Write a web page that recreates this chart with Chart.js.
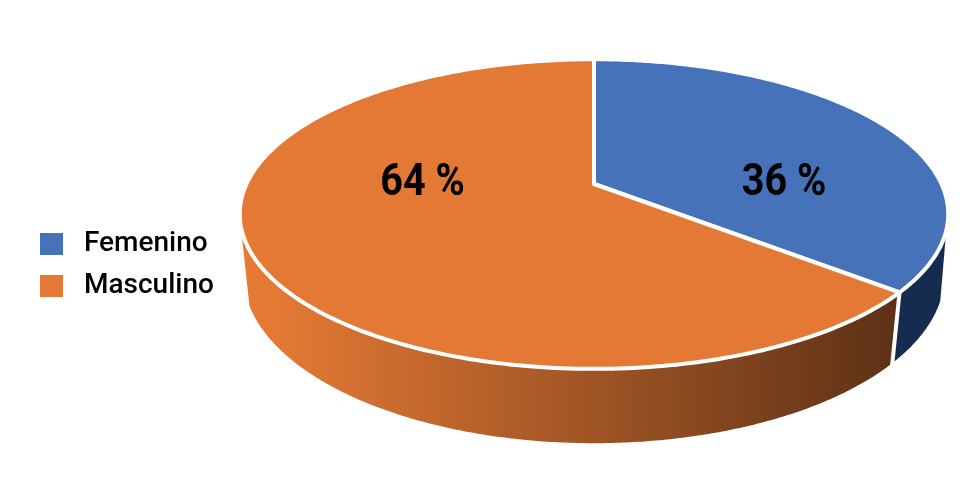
<!DOCTYPE html>
<html>
<head>
<meta charset="utf-8">
<script src="https://cdn.jsdelivr.net/npm/chart.js@4"></script>
<style>
  html, body { margin: 0; padding: 0; background: #fff; }
  canvas { display: block; }
</style>
</head>
<body>
<canvas id="sexChart" width="976" height="482"></canvas>
<script>
var categories = ['Femenino', 'Masculino'];
var percentages = [36, 64];
var sliceColors = ['#4672b9', '#e47935'];

// perspective of the top face and of the bottom rim
var k = 0.194;
var topFace = { x: 594, y: 184, a: 347.5, b: 149 };
var bottomFace = { x: 594, y: 241.7, a: 344, b: 162.4 };
var labelSpots = [{ x: 784, y: 195 }, { x: 422.5, y: 195 }];

// angle is the one chart.js gives the arc, r goes 0..1
function project(face, angle, r) {
  var u = Math.cos(angle) * r;
  var v = -Math.sin(angle) * r;
  var d = 1 + k * v;
  return { x: face.x + face.a * u / d, y: face.y - face.b * v / d };
}

function traceRim(ctx, face, from, to) {
  var steps = 240;
  for (var i = 0; i <= steps; i++) {
    var p = project(face, from + (to - from) * i / steps, 1);
    ctx.lineTo(p.x, p.y);
  }
}

var pie3d = {
  id: 'pie3d',
  beforeDatasetDraw: function(chart, args) {
    var ctx = chart.ctx;
    var arcs = args.meta.data;
    var seam = arcs[0].endAngle;
    var rad = Math.PI / 180;
    var lowSeam = seam + 1.4 * rad;

    // walls first, the top face covers their upper edge
    ctx.save();
    var shade = ctx.createLinearGradient(270, 0, 893, 0);
    shade.addColorStop(0, '#e57a35');
    shade.addColorStop(1, '#5e3116');
    ctx.fillStyle = shade;
    ctx.beginPath();
    traceRim(ctx, topFace, seam, 165 * rad);
    traceRim(ctx, bottomFace, 158.5 * rad, lowSeam);
    ctx.closePath();
    ctx.fill();

    ctx.fillStyle = '#152c50';
    ctx.beginPath();
    traceRim(ctx, topFace, 17 * rad, seam);
    traceRim(ctx, bottomFace, lowSeam, 20 * rad);
    ctx.closePath();
    ctx.fill();

    var a = project(topFace, seam, 1);
    var b = project(bottomFace, lowSeam, 1);
    ctx.strokeStyle = '#fff';
    ctx.lineWidth = 4;
    ctx.beginPath();
    ctx.moveTo(a.x, a.y);
    ctx.lineTo(b.x, b.y + 8);
    ctx.stroke();

    arcs.forEach(function(arc, i) {
      var c = project(topFace, 0, 0);
      ctx.beginPath();
      ctx.moveTo(c.x, c.y);
      traceRim(ctx, topFace, arc.startAngle, arc.endAngle);
      ctx.closePath();
      ctx.fillStyle = sliceColors[i];
      ctx.fill();
      ctx.strokeStyle = '#fff';
      ctx.lineWidth = 4;
      ctx.lineJoin = 'round';
      ctx.stroke();
    });

    ctx.fillStyle = '#000';
    ctx.font = 'bold 45px Roboto';
    ctx.textBaseline = 'alphabetic';
    ctx.textAlign = 'center';
    percentages.forEach(function(v, i) {
      ctx.save();
      ctx.translate(labelSpots[i].x, labelSpots[i].y);
      ctx.scale(0.88, 1);
      ctx.fillText(v + ' %', 0, 0);
      ctx.restore();
    });
    ctx.restore();
    return false;
  }
};

var sexChart = new Chart(document.getElementById('sexChart'), {
  type: 'pie',
  data: {
    labels: categories,
    datasets: [
      {
        data: percentages,
        backgroundColor: sliceColors,
        borderColor: '#fff',
        borderWidth: 4
      }
    ]
  },
  options: {
    responsive: false,
    animation: false,
    layout: { padding: { top: 48, left: 26 } },
    plugins: {
      tooltip: { enabled: false },
      legend: {
        position: 'left',
        labels: {
          boxWidth: 23,
          boxHeight: 22,
          padding: 14,
          color: '#000',
          font: { family: 'Roboto', weight: '500', size: 28 },
          generateLabels: function(chart) {
            return categories.map(function(name, i) {
              return { text: ' ' + name, fillStyle: sliceColors[i], lineWidth: 0, strokeStyle: sliceColors[i], index: i };
            });
          }
        }
      }
    }
  },
  plugins: [pie3d]
});
</script>
</body>
</html>
